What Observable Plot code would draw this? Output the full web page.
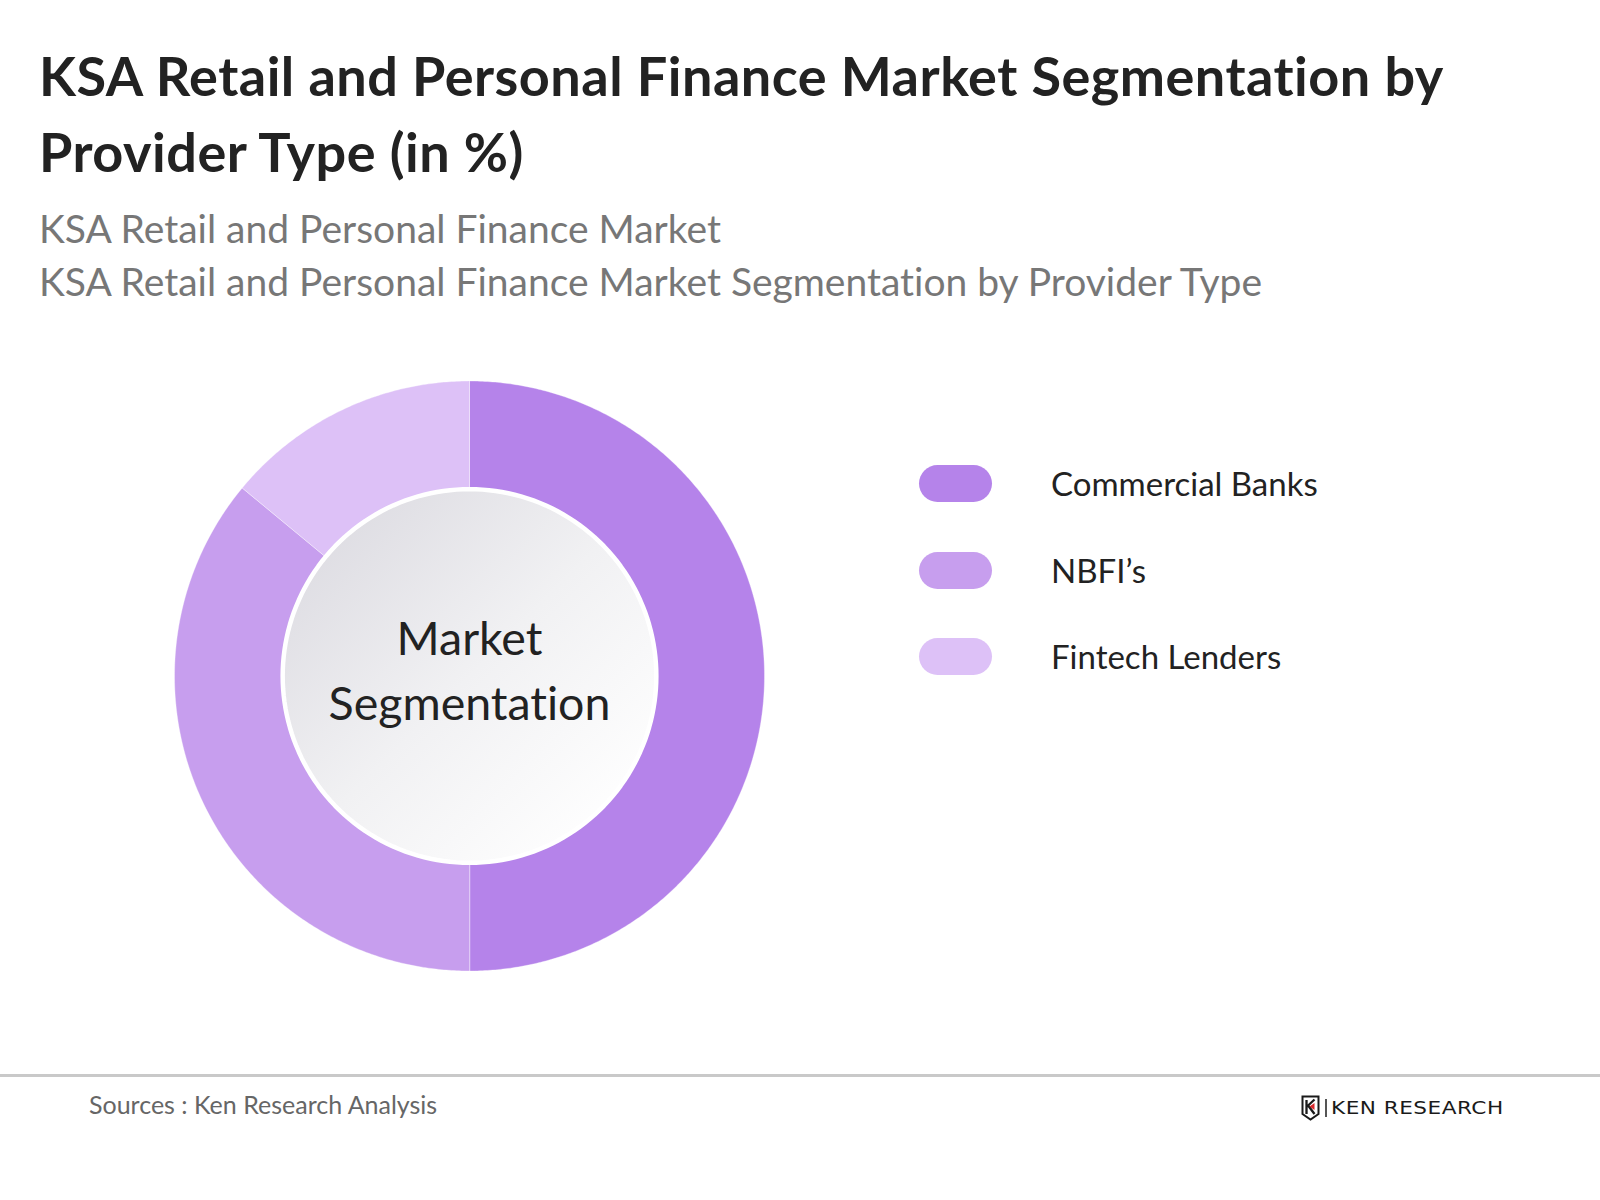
<!DOCTYPE html>
<html>
<head>
<meta charset="utf-8">
<script src="https://cdn.jsdelivr.net/npm/d3@7"></script>
<script src="https://cdn.jsdelivr.net/npm/@observablehq/plot@0.6"></script>
<style>
  html, body { margin: 0; padding: 0; background: #fff; }
  body { width: 1600px; height: 1200px; position: relative; font-family: Lato, "Open Sans", sans-serif; overflow: hidden; font-variant-ligatures: none; }
  #title { position: absolute; left: 39px; top: 37.8px; width: 1540px; font-size: 54px; font-weight: 700; line-height: 76px; letter-spacing: 0.5px; color: #222; margin: 0; }
  #subtitle { position: absolute; left: 39px; top: 201.5px; font-size: 39px; line-height: 53.4px; color: #777; margin: 0; }
  #chart { position: absolute; left: 0; top: 325px; }
  #legend { position: absolute; left: 919px; top: 465px; }
  .row { position: absolute; left: 0; height: 37px; width: 600px; }
  .sw { position: absolute; left: 0; top: 0; width: 73px; height: 37px; border-radius: 18.5px; }
  .lab { position: absolute; left: 132px; top: 0; line-height: 37px; font-size: 33px; color: #222; white-space: nowrap; }
  #rule { position: absolute; left: 0; top: 1074px; width: 1600px; height: 3px; background: #c9c9c9; }
  #source { position: absolute; left: 89px; top: 1088.6px; font-size: 25px; color: #666; line-height: 30px; }
  #logo { position: absolute; left: 1301px; top: 1094px; height: 27px; display: flex; align-items: center; }
  #logo .sep { width: 1.5px; height: 18px; background: #555; margin: 0 4px 0 5px; }
  #logo .txt { font-family: "DejaVu Sans", sans-serif; font-size: 18px; letter-spacing: 0.4px; color: #1a1a1a; line-height: 20px; display: inline-block; transform: scaleX(1.2); transform-origin: left center; }
</style>
</head>
<body>
<h1 id="title">KSA Retail and Personal Finance Market Segmentation by Provider Type (in %)</h1>
<div id="subtitle">KSA Retail and Personal Finance Market<br>KSA Retail and Personal Finance Market Segmentation by Provider Type</div>
<div id="chart"></div>
<div id="legend"></div>
<div id="rule"></div>
<div id="source">Sources : Ken Research Analysis</div>
<div id="logo">
  <svg width="19" height="26" viewBox="0 0 19 26">
    <path d="M1.5 1.5 H17.5 V19 L9.5 24.5 L1.5 19 Z" fill="none" stroke="#1a1a1a" stroke-width="2"/>
    <path d="M5.5 5 V19 M5.5 12 L13.5 4.5 M7.5 11 L13.5 19" stroke="#1a1a1a" stroke-width="2.3" fill="none"/>
    <path d="M8.5 11.5 L13.5 8 L13.5 15 Z" fill="#d8282b"/>
  </svg>
  <div class="sep"></div>
  <span class="txt">KEN RESEARCH</span>
</div>
<script>
// ---- data ----
const categories = ["Commercial Banks", "NBFI’s", "Fintech Lenders"];
const shares = [50, 36, 14];
const colors = ["#b583ea", "#c79eee", "#ddc1f7"];
const centerLabel = "Market\nSegmentation";

// ---- build wedge table (angles from cumulative shares) ----
const OUTER = 60;        // angular radius (deg) of donut outer edge on the projection
const INNER = 37.4;      // inner edge (hidden under centre disc)
const DISC = 38.0;       // centre disc radius
const total = d3.sum(shares);
let acc = 0;
const table = categories.map((c, i) => {
  const a0 = acc / total * 360; acc += shares[i];
  const a1 = acc / total * 360;
  return {category: c, share: shares[i], a0, a1};
});

// angle clockwise from top -> longitude on north-pole azimuthal projection
const lon = (a) => 180 - a;
function wedge(d) {
  const n = Math.max(2, Math.ceil((d.a1 - d.a0) / 0.5));
  const outer = d3.range(n + 1).map(k => [lon(d.a0 + (d.a1 - d.a0) * k / n), 90 - OUTER]);
  const inner = d3.range(n + 1).map(k => [lon(d.a1 - (d.a1 - d.a0) * k / n), 90 - INNER]);
  let ring = outer.concat(inner); ring.push(ring[0]);
  let g = {type: "Polygon", coordinates: [ring]};
  if (d3.geoArea(g) > 2 * Math.PI) g = {type: "Polygon", coordinates: [ring.slice().reverse()]};
  return g;
}

const W = 940, H = 700;
const defs = () => {
  const svgNS = "http://www.w3.org/2000/svg";
  const g = document.createElementNS(svgNS, "defs");
  g.innerHTML = `
    <linearGradient id="discGrad" x1="0.1" y1="0.1" x2="0.9" y2="0.9">
      <stop offset="0" stop-color="#dddce2"/>
      <stop offset="0.5" stop-color="#f1f1f3"/>
      <stop offset="1" stop-color="#ffffff"/>
    </linearGradient>
    <filter id="discShadow" x="-20%" y="-20%" width="140%" height="140%">
      <feDropShadow dx="0" dy="1.5" stdDeviation="2" flood-color="#000" flood-opacity="0.25"/>
    </filter>`;
  return g;
};

const plot = Plot.plot({
  width: W,
  height: H,
  marginLeft: 174,
  marginRight: W - 764,
  marginTop: 55.5,
  marginBottom: H - 645.5,
  projection: {
    type: "azimuthal-equidistant",
    rotate: [0, -90],
    domain: d3.geoCircle().center([0, 90]).radius(OUTER)()
  },
  color: {domain: categories, range: colors},
  marks: [
    defs,
    Plot.geo(table, {
      geometry: wedge,
      fill: "category",
      stroke: "#ffffff",
      strokeOpacity: 0.35,
      strokeWidth: 1
    }),
    Plot.geo([d3.geoCircle().center([0, 90]).radius(DISC)()], {
      fill: "url(#discGrad)",
      stroke: "#ffffff",
      strokeWidth: 4.5,
      ariaLabel: "centre-disc"
    }),
    Plot.text([centerLabel], {
      frameAnchor: "middle",
      text: d => d,
      fontSize: 46.5,
      lineHeight: 1.39,
      dy: -9,
      fill: "#222",
      fontFamily: "Lato"
    })
  ]
});
d3.select(plot).selectAll('g[aria-label="centre-disc"]').attr("filter", "url(#discShadow)");
document.getElementById("chart").appendChild(plot);

// ---- legend ----
const legend = document.getElementById("legend");
categories.forEach((c, i) => {
  const row = document.createElement("div");
  row.className = "row";
  row.style.top = (i * 86.5) + "px";
  const sw = document.createElement("div");
  sw.className = "sw";
  sw.style.background = colors[i];
  const lab = document.createElement("div");
  lab.className = "lab";
  lab.textContent = c;
  row.appendChild(sw); row.appendChild(lab);
  legend.appendChild(row);
});
</script>
</body>
</html>
